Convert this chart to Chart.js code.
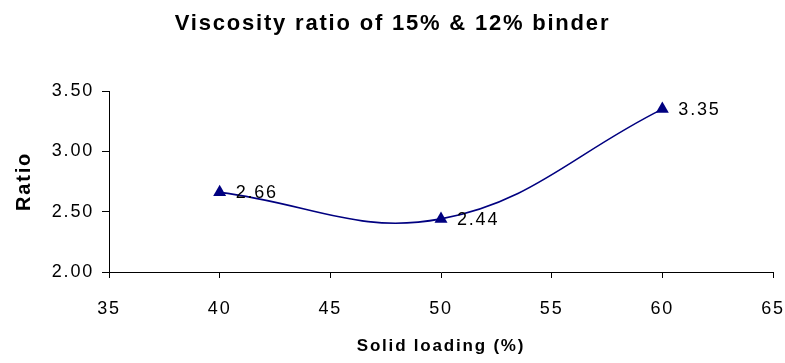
<!DOCTYPE html>
<html>
<head>
<meta charset="utf-8">
<script src="https://cdn.jsdelivr.net/npm/chart.js@4/dist/chart.umd.min.js"></script>
<style>
  html, body { margin: 0; padding: 0; background: #ffffff; }
  #wrap { width: 785px; height: 363px; }
</style>
</head>
<body>
<div id="wrap"><canvas id="c" width="785" height="363"></canvas></div>
<script>
// Solid loading (%) and the viscosity ratio of the 15% vs 12% binder
const solidLoading = [40, 50, 60];
const viscosityRatio = [2.66, 2.44, 3.35];
const yTicks = [2.0, 2.5, 3.0, 3.5];
const xTicks = [35, 40, 45, 50, 55, 60, 65];

const NAVY = '#000080';
const FONT = '"Liberation Sans", Arial, sans-serif';
const SPACING = '1.8px';

// Slightly spaced-out lettering for every text on the canvas
const wideText = {
  id: 'wideText',
  beforeUpdate(chart) { chart.ctx.letterSpacing = SPACING; },
  beforeDraw(chart) { chart.ctx.letterSpacing = SPACING; }
};

// Writes each point's value to the right of its marker
const valueLabels = {
  id: 'valueLabels',
  afterDatasetsDraw(chart) {
    const ctx = chart.ctx;
    const meta = chart.getDatasetMeta(0);
    ctx.save();
    ctx.letterSpacing = SPACING;
    ctx.font = '18px ' + FONT;
    ctx.fillStyle = '#000';
    ctx.textAlign = 'left';
    ctx.textBaseline = 'middle';
    meta.data.forEach((pt, i) => {
      const v = chart.data.datasets[0].data[i].y;
      ctx.fillText(v.toFixed(2), pt.x + 16, pt.y + 1);
    });
    ctx.restore();
  }
};

new Chart(document.getElementById('c'), {
  type: 'scatter',
  data: {
    datasets: [{
      data: solidLoading.map((x, i) => ({ x, y: viscosityRatio[i] })),
      showLine: true,
      borderColor: NAVY,
      borderWidth: 1.6,
      tension: 0.4,
      pointStyle: 'triangle',
      pointRadius: 7.5,
      pointHoverRadius: 7.5,
      pointBackgroundColor: NAVY,
      pointBorderColor: NAVY,
      pointBorderWidth: 0
    }]
  },
  options: {
    responsive: false,
    animation: false,
    layout: { padding: 0 },
    plugins: {
      legend: { display: false },
      tooltip: { enabled: false },
      title: {
        display: true,
        text: 'Viscosity ratio of 15% & 12% binder',
        color: '#000',
        font: { family: FONT, size: 22, weight: 'bold' },
        padding: { top: 11, bottom: 53.6 }
      }
    },
    scales: {
      x: {
        type: 'linear',
        min: 35,
        max: 65,
        afterBuildTicks: (s) => { s.ticks = xTicks.map(v => ({ value: v })); },
        afterFit: (s) => { s.height = 91; s.paddingLeft = 0; s.paddingRight = 12; },
        ticks: {
          color: '#000',
          font: { family: FONT, size: 18 },
          padding: 20,
          maxRotation: 0
        },
        grid: { display: true, drawOnChartArea: false, drawTicks: true, tickLength: 6, color: '#000', lineWidth: 1 },
        border: { display: true, color: '#000', width: 1 },
        title: {
          display: true,
          text: 'Solid loading (%)',
          color: '#000',
          font: { family: FONT, size: 17, weight: 'bold' },
          padding: { top: 4, bottom: 6 }
        }
      },
      y: {
        type: 'linear',
        min: 2.0,
        max: 3.5,
        afterBuildTicks: (s) => { s.ticks = yTicks.map(v => ({ value: v })); },
        afterFit: (s) => { s.width = 109; },
        ticks: {
          color: '#000',
          font: { family: FONT, size: 18 },
          padding: 8,
          callback: (v) => Number(v).toFixed(2)
        },
        grid: { display: true, drawOnChartArea: false, drawTicks: true, tickLength: 7, color: '#000', lineWidth: 1 },
        border: { display: true, color: '#000', width: 1 },
        title: {
          display: true,
          text: 'Ratio',
          color: '#000',
          font: { family: FONT, size: 20, weight: 'bold' },
          padding: { top: 12, bottom: 0 }
        }
      }
    }
  },
  plugins: [wideText, valueLabels]
});
</script>
</body>
</html>
